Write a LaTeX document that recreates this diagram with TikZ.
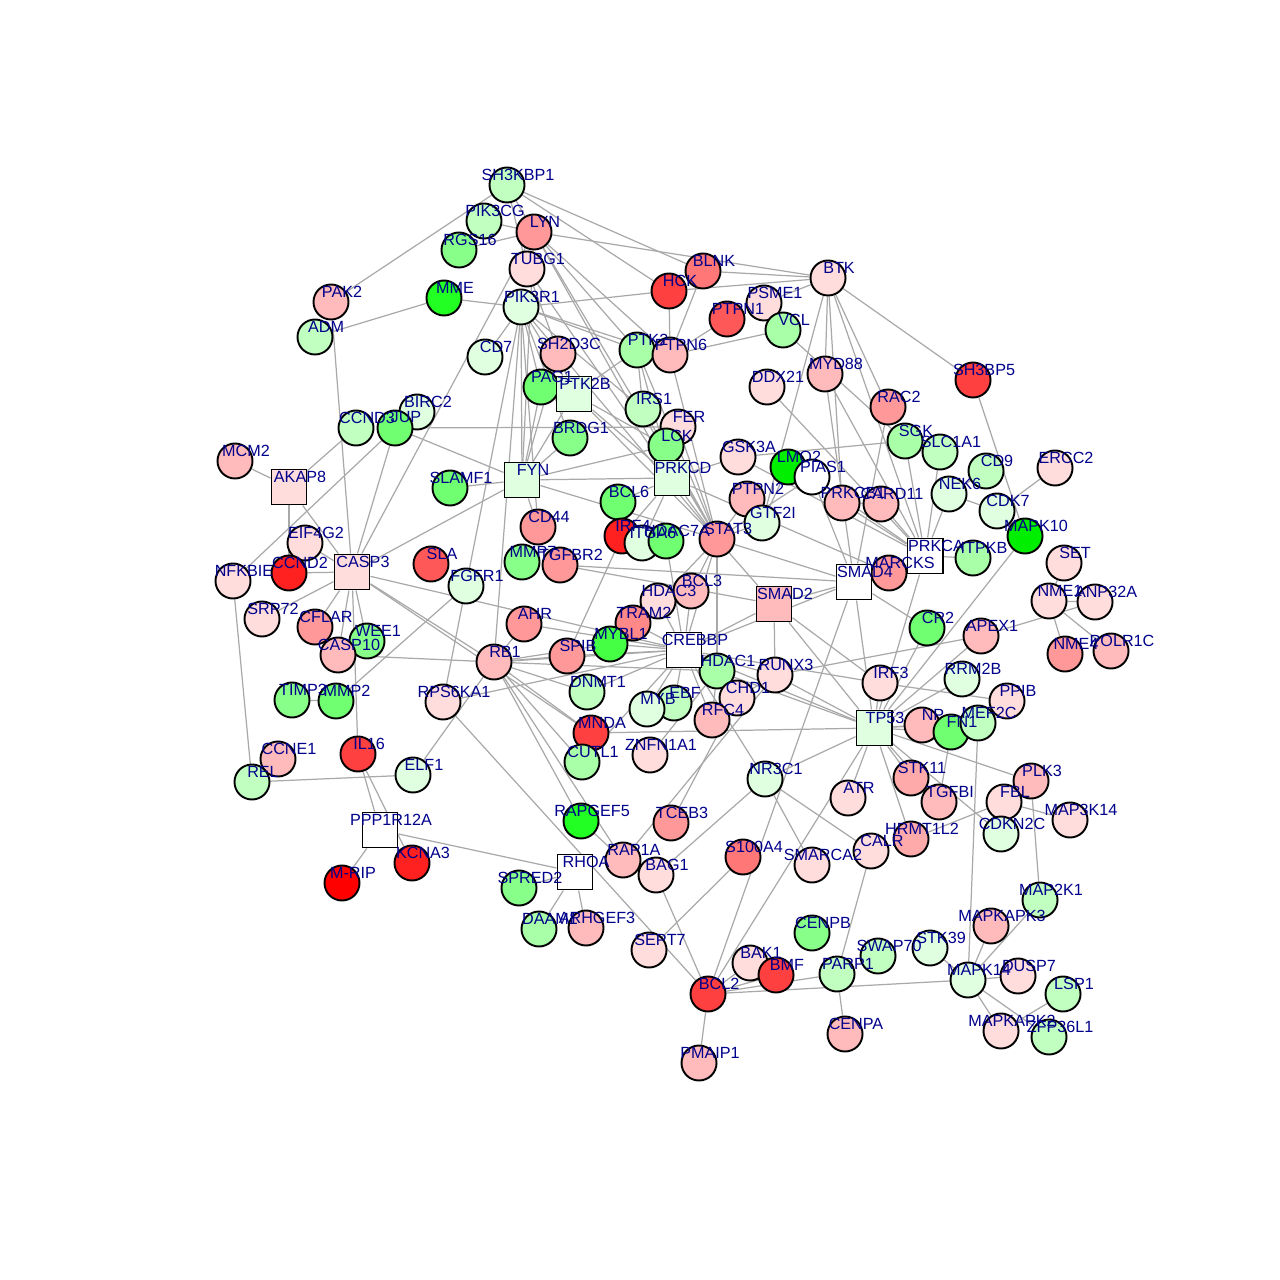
\documentclass[tikz,border=0pt]{standalone}
\usepackage{fontspec}
\newfontfamily\genefont{Liberation Sans}
\usepackage{tikz}
\usetikzlibrary{backgrounds}
\definecolor{lblblue}{HTML}{00008B}
\definecolor{linkgray}{HTML}{A9A9A9}
\definecolor{wpink}{HTML}{FFDDDD}
\definecolor{lpink}{HTML}{FFBBBB}
\definecolor{rosy}{HTML}{FFAAAA}
\definecolor{salmon}{HTML}{FF9999}
\definecolor{coral}{HTML}{FF8888}
\definecolor{redA}{HTML}{FF7777}
\definecolor{redB}{HTML}{FF5858}
\definecolor{redC}{HTML}{FF4040}
\definecolor{redD}{HTML}{FF2020}
\definecolor{redE}{HTML}{FF0000}
\definecolor{vlgreen}{HTML}{E0FFE0}
\definecolor{lgreen}{HTML}{C0FFC0}
\definecolor{mgreen}{HTML}{A8FFA8}
\definecolor{greenA}{HTML}{88FF88}
\definecolor{greenB}{HTML}{70FF70}
\definecolor{greenC}{HTML}{44FF44}
\definecolor{greenD}{HTML}{22FF22}
\definecolor{greenE}{HTML}{00EE00}

\def\circlegenes{SH3KBP1/507/185/lgreen, PIK3CG/484/221/lgreen, LYN/534/232/salmon,
  RGS16/459/250/greenA, TUBG1/527/269/wpink, PAK2/331/302/lpink, MME/444/298/greenD,
  ADM/315/337/lgreen, PIK3R1/521/307/vlgreen, CD7/485/357/vlgreen, HCK/669/291/redC,
  BLNK/703/271/redA, BTK/828/278/wpink, PSME1/764/303/wpink, PTPN1/727/319/redB,
  VCL/783/330/mgreen, SH2D3C/558/354/lpink, PTK2/637/350/mgreen, PTPN6/670/355/lpink,
  PAG1/541/387/greenB, DDX21/767/387/wpink, MYD88/825/374/lpink, RAC2/888/407/salmon,
  SH3BP5/973/380/redC, BIRC2/417/412/vlgreen, CCND3/356/428/lgreen, JUP/395/428/greenB,
  MCM2/235/461/lpink, IRS1/643/409/lgreen, FER/678/427/wpink, LCK/666/446/greenA,
  BRDG1/570/438/greenA, GSK3A/738/457/wpink, LMO2/788/467/greenE, PIAS1/812/477/white,
  SLAMF1/450/488/greenB, SGK/905/441/mgreen, SLC1A1/940/452/lgreen, CD9/986/471/lgreen,
  ERCC2/1055/468/wpink, NEK6/949/494/vlgreen, CDK7/997/511/vlgreen, MAPK10/1025/536/greenE,
  BCL6/618/502/greenB, PTPN2/747/499/lpink, PRKCB1/842/503/lpink, CARD11/881/504/lpink,
  GTF2I/762/523/vlgreen, CD44/538/527/salmon, IRF4/622/536/redD, ITGA6/642/543/vlgreen,
  HDAC7A/666/541/greenB, STAT3/717/539/salmon, ITPKB/973/558/mgreen, SET/1064/563/wpink,
  EIF4G2/305/543/wpink, CCND2/289/573/redD, NFKBIE/233/581/wpink, SLA/431/564/redB,
  FGFR1/466/586/vlgreen, MMP7/522/562/greenA, TGFBR2/560/565/salmon, MARCKS/889/573/salmon,
  NME1/1049/601/wpink, ANP32A/1095/602/wpink, HDAC3/658/601/wpink, BCL3/691/591/lpink,
  SRP72/262/619/wpink, CFLAR/315/627/salmon, WEE1/367/641/greenA, CASP10/338/655/lpink,
  AHR/524/624/salmon, TRAM2/633/623/coral, MYBL1/610/644/greenC, SPIB/567/656/salmon,
  RB1/494/662/lpink, HDAC1/717/671/mgreen, RUNX3/775/675/wpink, CR2/927/628/greenB,
  APEX1/981/636/lpink, NME4/1065/654/salmon, POLR1C/1111/651/lpink, DNMT1/587/692/lgreen,
  CHD1/737/698/wpink, TIMP3/292/700/greenA, MMP2/336/701/greenB, RPS6KA1/443/702/wpink,
  IRF3/880/683/wpink, RRM2B/962/679/vlgreen, PPIB/1007/701/wpink, EBF/674/703/lgreen,
  MYB/647/709/vlgreen, RFC4/712/720/lpink, MNDA/591/733/redC, NP/922/725/lpink,
  FN1/951/732/greenB, MEF2C/978/723/lgreen, IL16/358/754/redC, CCNE1/278/759/lpink,
  ZNFN1A1/650/755/wpink, CUTL1/582/762/mgreen, REL/252/782/lgreen, ELF1/413/775/vlgreen,
  NR3C1/765/779/vlgreen, STK11/911/778/rosy, PLK3/1031/781/lpink, ATR/848/798/wpink,
  TGFBI/939/802/lpink, FBL/1004/802/wpink, MAP3K14/1070/820/wpink, RAPGEF5/581/821/greenD,
  TCEB3/671/823/salmon, HRMT1L2/911/839/rosy, CDKN2C/1001/834/vlgreen, CALR/871/851/wpink,
  SMARCA2/812/865/wpink, S100A4/743/857/redA, RAP1A/623/860/lpink, BAG1/656/875/wpink,
  KCNA3/412/863/redD, SPRED2/519/888/greenA, MAP2K1/1040/900/lgreen,
  DAAM1/539/929/mgreen, ARHGEF3/586/928/lpink, MAPKAPK3/991/926/lpink, CENPB/812/933/greenA,
  SEPT7/649/950/wpink, STK39/930/948/vlgreen, SWAP70/878/956/lgreen, BAK1/750/963/wpink,
  BMF/776/975/redC, PARP1/837/974/lgreen, MAPK14/968/980/vlgreen, DUSP7/1018/976/wpink,
  LSP1/1063/994/lgreen, BCL2/708/994/redC, CENPA/845/1034/lpink, MAPKAPK2/1001/1031/wpink,
  ZFP36L1/1049/1037/lgreen, PMAIP1/699/1063/lpink}

\def\squaregenes{PTK2B/574/394/vlgreen, AKAP8/289/487/wpink, FYN/522/480/vlgreen,
  PRKCD/672/478/vlgreen, PRKCA/925/556/white, CASP3/352/572/wpink, SMAD4/854/582/white,
  SMAD2/774/604/lpink, CREBBP/684/650/white, TP53/874/728/vlgreen,
  PPP1R12A/380/830/white, RHOA/575/872/white}

\begin{document}
\begin{tikzpicture}[x=0.01cm,y=-0.01cm,
    gene/.style={circle,draw=black,line width=0.55pt,minimum size=0.35cm,inner sep=0pt},
    hub/.style={rectangle,draw=black,line width=0.55pt,minimum size=0.35cm,inner sep=0pt},
    lbl/.style={text=lblblue,font=\genefont\fontsize{4.6}{5}\selectfont,inner sep=0pt},
    link/.style={draw=linkgray,line width=0.35pt}]
  \useasboundingbox (0,0) rectangle (1280,1280);
  % vertices
  \foreach \n/\x/\y/\c in \circlegenes
    \node[gene,fill=\c] (\n) at (\x,\y) {};
  \node[gene,fill=redE] (MRIP) at (342,883) {};
  \foreach \n/\x/\y/\c in \squaregenes
    \node[hub,fill=\c] (\n) at (\x,\y) {};
  % labels on top
  \foreach \n/\x/\y/\c in \circlegenes
    \node[lbl] (t\n) at (\x+11,\y-10.5) {\n};
  \foreach \n/\x/\y/\c in \squaregenes
    \node[lbl] (t\n) at (\x+11,\y-10.5) {\n};
  \node[lbl] (tMRIP) at (353,872.5) {M-RIP};
  % interactions
  \begin{scope}[on background layer]
    \foreach \a/\b in {SH3KBP1/PAK2, SH3KBP1/HCK, SH3KBP1/BLNK, SH3KBP1/LYN, SH3KBP1/TUBG1,
      PIK3CG/LYN, RGS16/LYN, LYN/BTK, LYN/PTK2, LYN/PRKCD, LYN/CASP3, LYN/FYN, LYN/PTPN6,
      LYN/STAT3, TUBG1/PTK2B, TUBG1/PRKCD, ADM/MME, MME/PIK3R1, PAK2/CASP3,
      PIK3R1/HCK, PIK3R1/CD7, PIK3R1/PTK2, PIK3R1/PTPN6, PIK3R1/IRS1, PIK3R1/PAG1,
      PIK3R1/FYN, PIK3R1/RB1, PIK3R1/FGFR1, PIK3R1/PTK2B, PIK3R1/BRDG1, PIK3R1/CD44,
      PIK3R1/STAT3, HCK/PTPN6, HCK/BTK, BLNK/BTK, BLNK/PTPN6, PSME1/BTK, PTPN1/PTPN6,
      PTPN6/VCL, VCL/SGK, BTK/SH3BP5, BTK/RAC2, BTK/MYD88, BTK/PRKCB1, BTK/GTF2I,
      BTK/PRKCA, SH3BP5/MAPK10, MYD88/SMAD4, MYD88/PRKCA, RAC2/SMAD4, DDX21/PRKCA,
      PTK2/PTK2B, PTK2/PRKCD, PTK2/STAT3, PTK2/IRS1, PTK2/PTPN6, SH2D3C/PTK2B, SH2D3C/FYN,
      PAG1/FYN, PTK2B/FYN, PTK2B/PRKCD, PTK2B/STAT3, PTK2B/LCK, BRDG1/FYN,
      IRS1/STAT3, FER/PRKCD, FER/STAT3, LCK/PRKCD, LCK/STAT3, LCK/FYN,
      GSK3A/SGK, GSK3A/PRKCD, GSK3A/PRKCA, LMO2/GTF2I, PIAS1/PRKCA, PIAS1/SMAD4,
      PIAS1/STAT3, PTPN2/STAT3, PRKCB1/PRKCA, CARD11/PRKCA, PRKCB1/CARD11,
      SGK/PRKCA, SLC1A1/PRKCA, NEK6/PRKCA, CD9/NEK6, CDK7/NEK6, ERCC2/CDK7, ITPKB/PRKCA,
      SET/NME1, NME1/NME4, NME1/ANP32A, NME1/POLR1C, APEX1/ANP32A, APEX1/TP53,
      RUNX3/APEX1, CR2/TP53, CR2/SMAD4, MAPK10/TP53,
      MCM2/AKAP8, AKAP8/CCND3, AKAP8/CASP3, AKAP8/CCND2,
      JUP/NFKBIE, JUP/CASP3, JUP/FYN, JUP/FER,
      CASP3/FYN, CASP3/SRP72, CASP3/EIF4G2, CASP3/CCND2, CASP3/CFLAR, CASP3/CASP10,
      CASP3/WEE1, CASP3/IL16, CASP3/RB1, CASP3/CREBBP, CASP3/MNDA,
      NFKBIE/REL, REL/ELF1, CCNE1/REL,
      IL16/PPP1R12A, IL16/KCNA3, PPP1R12A/MRIP, PPP1R12A/KCNA3, PPP1R12A/RHOA,
      ELF1/RB1, RPS6KA1/FGFR1, RPS6KA1/CREBBP, RPS6KA1/BCL2, CASP10/RB1, MMP2/FGFR1,
      TIMP3/MMP2, SLAMF1/FYN, CD44/FYN, TGFBR2/SMAD4, TGFBR2/SMAD2, BCL6/PRKCD,
      IRF4/SPIB, IRF4/PRKCD, ITGA6/PRKCD, HDAC7A/CREBBP, FYN/STAT3, FYN/PRKCD,
      STAT3/CREBBP, STAT3/HDAC3, STAT3/BCL3, STAT3/PRKCD, STAT3/PTPN6, STAT3/HDAC1,
      STAT3/SMAD2, STAT3/GTF2I, MARCKS/PRKCA, MARCKS/PRKCD, SMAD4/SMAD2, SMAD4/TP53,
      SMAD4/CREBBP, SMAD4/STAT3, SMAD2/CREBBP, SMAD2/TP53, SMAD2/IRF3, SMAD2/RUNX3,
      RUNX3/CREBBP, RUNX3/CHD1, RUNX3/TP53, CHD1/HDAC1, RFC4/HDAC1, RFC4/CREBBP,
      HDAC1/CREBBP, HDAC1/RB1, HDAC1/TP53, HDAC3/CREBBP, BCL3/CREBBP, TRAM2/CREBBP,
      MYBL1/CREBBP, SPIB/CREBBP, AHR/CREBBP, RB1/CREBBP, MYB/CREBBP, EBF/CREBBP,
      ZNFN1A1/HDAC1, DNMT1/RB1, DNMT1/CREBBP, MNDA/TP53, MNDA/RB1, CUTL1/RB1,
      CUTL1/CREBBP, RAPGEF5/RAP1A, RAPGEF5/RB1, RB1/RAP1A, RAP1A/RUNX3, TCEB3/CHD1,
      SPIB/RB1, MYBL1/RB1, AHR/RB1, BAG1/NR3C1, BAG1/BCL2, SEPT7/S100A4,
      RHOA/DAAM1, RHOA/ARHGEF3, RHOA/SPRED2,
      BCL2/PMAIP1, BCL2/BAK1, BCL2/BMF, BCL2/PARP1, BCL2/MAPK14, BCL2/TP53, BCL2/SMAD4,
      PARP1/CENPA, PARP1/CALR, MAPK14/STK39, MAPK14/MAPKAPK3, MAPK14/MAP2K1,
      MAPK14/DUSP7, MAPK14/MAPKAPK2, MAPK14/MEF2C, MAPK14/ZFP36L1, LSP1/MAPKAPK2,
      PLK3/MAP2K1, PLK3/TP53, FBL/MAP3K14, HRMT1L2/FBL, TP53/CDKN2C,
      TP53/IRF3, TP53/NP, TP53/FN1, TP53/MEF2C, TP53/STK11, TP53/ATR, TP53/TGFBI,
      TP53/HRMT1L2, TP53/CREBBP, TP53/PRKCA, TP53/RRM2B, TP53/NR3C1,
      FN1/TGFBI, IRF3/PPIB, IRF3/CREBBP, NR3C1/SMARCA2, NR3C1/CALR, NR3C1/CREBBP}
      \draw[link] (\a) -- (\b);
  \end{scope}
\end{tikzpicture}
\end{document}
